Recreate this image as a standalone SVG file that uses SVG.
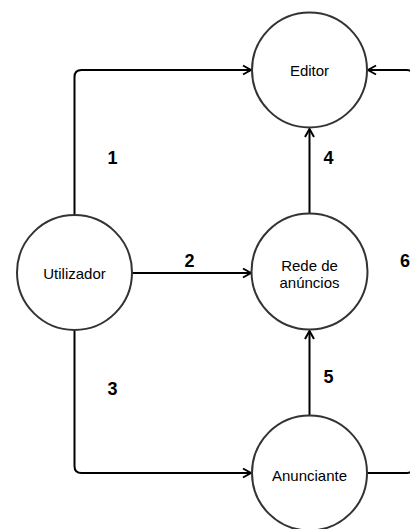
<svg xmlns="http://www.w3.org/2000/svg" width="410" height="529" viewBox="0 0 410 529">
<style>
  .node circle { fill: #fff; stroke: #333; stroke-width: 2; }
  .lbl { font-family: "Liberation Sans", Arial, Helvetica, sans-serif; font-size: 15px; fill: #000; text-anchor: middle; }
  .num { font-family: "Liberation Sans", Arial, Helvetica, sans-serif; font-size: 18px; font-weight: bold; fill: #000; text-anchor: middle; }
  .edge { fill: none; stroke: #000; stroke-width: 2; marker-end: url(#arr); }
</style>
<defs>
  <marker id="arr" markerWidth="12" markerHeight="12" refX="10" refY="6" orient="auto" markerUnits="userSpaceOnUse">
    <path d="M2,1.5 L10,6 L2,10.5" fill="none" stroke="#000" stroke-width="2"/>
  </marker>
</defs>
<rect width="410" height="529" fill="#fff"/>
<g id="connectors">
  <path class="edge" d="M74.5,214 V77 Q74.5,70 81.5,70 H251"/>
  <path class="edge" d="M132,273 H251"/>
  <path class="edge" d="M74.5,331 V466 Q74.5,473 81.5,473 H251"/>
  <path class="edge" d="M309.5,214 V129"/>
  <path class="edge" d="M309.5,415 V331"/>
  <path class="edge" d="M367,473 H407 Q413,473 413,467 V76 Q413,70 407,70 H368"/>
</g>
<g id="editor" class="node">
  <circle cx="309.5" cy="70" r="57.5"/>
  <text class="lbl" x="309.5" y="76">Editor</text>
</g>
<g id="utilizador" class="node">
  <circle cx="74.5" cy="272.5" r="57.5"/>
  <text class="lbl" x="74.5" y="278.5">Utilizador</text>
</g>
<g id="rede" class="node">
  <circle cx="309.5" cy="271.5" r="58"/>
  <text class="lbl" x="309.5" y="270.5">Rede de</text>
  <text class="lbl" x="309.5" y="288">anúncios</text>
</g>
<g id="anunciante" class="node">
  <circle cx="309.5" cy="473" r="57.5"/>
  <text class="lbl" x="309.5" y="480.5">Anunciante</text>
</g>
<g id="labels">
  <text class="num" x="112.5" y="164">1</text>
  <text class="num" x="189.5" y="267">2</text>
  <text class="num" x="112.5" y="395">3</text>
  <text class="num" x="328.5" y="164">4</text>
  <text class="num" x="328.5" y="383">5</text>
  <text class="num" x="405" y="267">6</text>
</g>
</svg>
